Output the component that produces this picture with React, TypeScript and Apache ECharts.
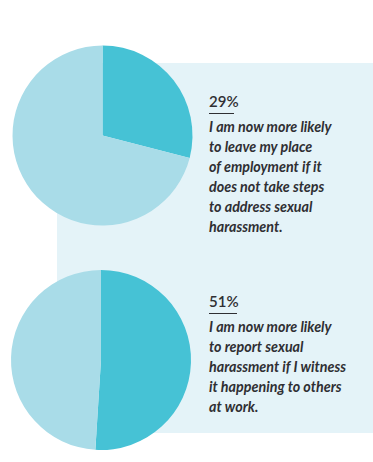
import React, { useEffect, useRef } from "react";
import * as echarts from "echarts";

const percentLabels = ["29%", "51%"];
const seriesValues = [
  [29, 71],
  [51, 49],
];
const sliceNames = ["Agree", "Other"];
const statementLines = [
  [
    "I am now more likely",
    "to leave my place",
    "of employment if it",
    "does not take steps",
    "to address sexual",
    "harassment.",
  ],
  [
    "I am now more likely",
    "to report sexual",
    "harassment if I witness",
    "it happening to others",
    "at work.",
  ],
];

const DARK = "#46c2d5";
const LIGHT = "#a9dce8";
const PANEL = "#e4f3f8";
const TEXT = "#2f2f33";

export default function App() {
  const ref = useRef<HTMLDivElement>(null);

  useEffect(() => {
    document.body.style.margin = "0";
    if (!ref.current) return;
    const chart = echarts.init(ref.current, null, { renderer: "svg" });

    const pieCenters = [
      [102.5, 135.5],
      [101, 360],
    ];
    const textX = 209;
    const pctTop = [101, 301];
    const ruleY = [113.5, 313.5];
    const ruleEnd = [234, 237];
    const firstLine = [126.5, 326.5];

    const graphics: any[] = [
      {
        type: "rect",
        shape: { x: 57, y: 63, width: 316, height: 370 },
        style: { fill: PANEL },
        z: -10,
        silent: true,
      },
    ];

    percentLabels.forEach((p, i) => {
      graphics.push({
        type: "text",
        x: textX,
        y: pctTop[i],
        style: {
          text: p,
          fill: TEXT,
          fontFamily: "Lato",
          fontWeight: 600,
          fontSize: 15,
          verticalAlign: "middle",
        },
      });
      graphics.push({
        type: "line",
        shape: { x1: textX, y1: ruleY[i], x2: ruleEnd[i], y2: ruleY[i] },
        style: { stroke: TEXT, lineWidth: 1 },
      });
      statementLines[i].forEach((line, j) => {
        graphics.push({
          type: "text",
          x: textX,
          y: firstLine[i] + j * 20,
          style: {
            text: line,
            fill: TEXT,
            fontFamily: "Lato",
            fontStyle: "italic",
            fontWeight: "bold",
            fontSize: 14.3,
            verticalAlign: "middle",
          },
        });
      });
    });

    chart.setOption({
      animation: false,
      backgroundColor: "#ffffff",
      graphic: graphics,
      series: seriesValues.map((vals, i) => ({
        type: "pie",
        center: pieCenters[i],
        radius: [0, 90],
        startAngle: 90,
        clockwise: true,
        silent: true,
        label: { show: false },
        labelLine: { show: false },
        emphasis: { disabled: true },
        itemStyle: { borderWidth: 0 },
        data: vals.map((v, k) => ({
          name: sliceNames[k],
          value: v,
          itemStyle: { color: k === 0 ? DARK : LIGHT },
        })),
      })),
    });

    return () => chart.dispose();
  }, []);

  return <div ref={ref} style={{ width: 373, height: 462 }} />;
}
